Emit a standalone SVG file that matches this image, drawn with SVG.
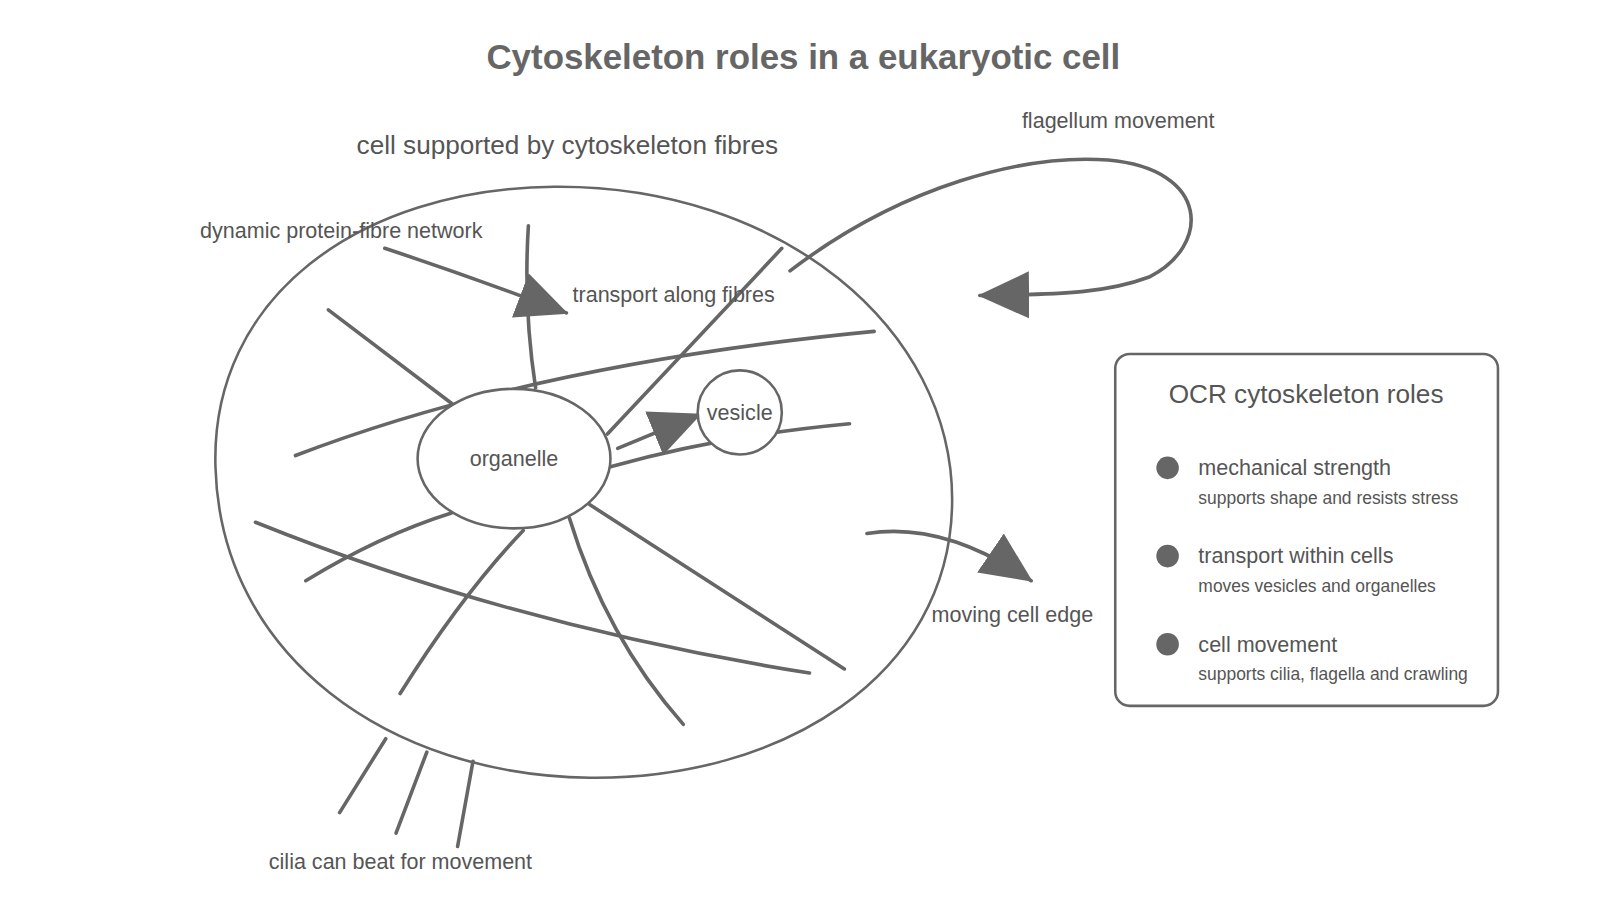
<svg xmlns="http://www.w3.org/2000/svg" width="1600" height="900" viewBox="0 0 1600 900">
<style>
.ln{fill:none;stroke:#666;stroke-width:3.5;stroke-linecap:round}
.sh{fill:#fff;stroke:#666;stroke-width:2.5}
.t{font-family:"Liberation Sans",Arial,sans-serif;fill:#555;font-size:21px}
.s{font-family:"Liberation Sans",Arial,sans-serif;fill:#555;font-size:17px}
.b{font-family:"Liberation Sans",Arial,sans-serif;fill:#555;font-size:25.5px}
</style>
<defs>
<marker id="ah" markerUnits="userSpaceOnUse" markerWidth="52" markerHeight="46" refX="48" refY="23" orient="auto">
<path d="M0,0 L50,23 L0,46 Z" fill="#666"/>
</marker>
</defs>
<rect width="1600" height="900" fill="#fff"/>
<g transform="scale(1.026)">
<text x="783" y="67" text-anchor="middle" font-family="Liberation Sans,Arial,sans-serif" font-weight="bold" font-size="34" fill="#666">Cytoskeleton roles in a eukaryotic cell</text>
<g id="cell">
<path class="sh" d="M540,182 C760,180 930,320 928,490 C926,660 760,760 575,758 C380,756 215,640 210,455 C205,290 350,184 540,182 Z"/>
<text class="b" x="553" y="150" text-anchor="middle">cell supported by cytoskeleton fibres</text>
</g>
<g id="connectors">
<path class="ln" d="M320,302 L440,393"/>
<path class="ln" d="M288,444 Q520,355 852,323"/>
<path class="ln" d="M592,423 L762,242"/>
<path class="ln" d="M515,220 Q510,300 522,378"/>
<path class="ln" d="M595,455 Q700,425 828,413"/>
<path class="ln" d="M298,566 Q370,522 440,500"/>
<path class="ln" d="M390,676 Q450,580 510,517"/>
<path class="ln" d="M555,505 Q590,620 666,706"/>
<path class="ln" d="M575,492 L823,652"/>
<path class="ln" d="M249,509 Q500,610 789,656"/>
<path class="ln" d="M376,720 L331,792 M416,733 L386,812 M461,742 L446,825"/>
<path class="ln" d="M375,242 Q460,270 552,305" marker-end="url(#ah)"/>
<path class="ln" d="M602,437 L682,404" marker-end="url(#ah)"/>
<path class="ln" d="M770,264 C880,180 1000,150 1080,156 C1180,165 1180,240 1120,270 C1080,285 1040,287 955,288" marker-end="url(#ah)"/>
<path class="ln" d="M845,520 Q920,508 1005,566" marker-end="url(#ah)"/>
</g>
<g id="organelle"><ellipse class="sh" cx="501" cy="447" rx="94" ry="68"/><text class="t" x="501" y="454" text-anchor="middle">organelle</text></g>
<g id="vesicle"><circle class="sh" cx="721" cy="402" r="41"/><text class="t" x="721" y="409" text-anchor="middle">vesicle</text></g>
<g id="labels">
<text class="t" x="195" y="232">dynamic protein-fibre network</text>
<text class="t" x="558" y="294">transport along fibres</text>
<text class="t" x="996" y="125">flagellum movement</text>
<text class="t" x="908" y="606">moving cell edge</text>
<text class="t" x="262" y="847">cilia can beat for movement</text>
</g>
<g id="legend">
<rect class="sh" x="1087" y="345" width="373" height="343" rx="14"/>
<text class="b" x="1273" y="393" text-anchor="middle">OCR cytoskeleton roles</text>
<circle cx="1138" cy="456" r="11" fill="#666"/>
<text class="t" x="1168" y="463">mechanical strength</text>
<text class="s" x="1168" y="491">supports shape and resists stress</text>
<circle cx="1138" cy="542" r="11" fill="#666"/>
<text class="t" x="1168" y="549">transport within cells</text>
<text class="s" x="1168" y="577">moves vesicles and organelles</text>
<circle cx="1138" cy="628" r="11" fill="#666"/>
<text class="t" x="1168" y="635">cell movement</text>
<text class="s" x="1168" y="663">supports cilia, flagella and crawling</text>
</g>
</g>
</svg>
